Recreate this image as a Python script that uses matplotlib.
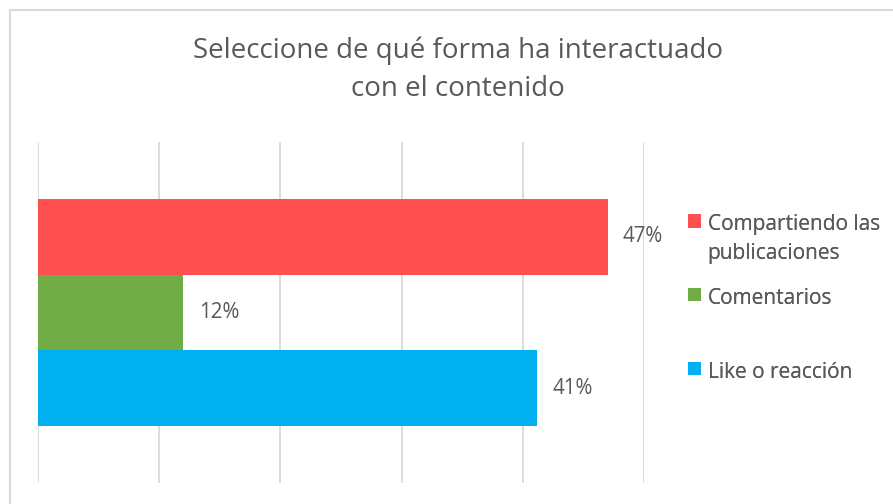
import matplotlib
matplotlib.use('Agg')
import matplotlib.pyplot as plt
from matplotlib.patches import Rectangle, Patch

# data
categories = ['Compartiendo las\npublicaciones', 'Comentarios', 'Like o reacción']
values = [0.47, 0.12, 0.412]
value_labels = ['47%', '12%', '41%']
colors = ['#FF5050', '#70AD47', '#00B0F0']
title = 'Seleccione de qué forma ha interactuado\ncon el contenido'

text_color = '#595959'
grid_color = '#D9D9D9'
plt.rcParams['font.family'] = ['Open Sans', 'DejaVu Sans']

W, H = 893, 504
fig = plt.figure(figsize=(W / 100, H / 100), dpi=100)
fig.patch.set_facecolor('white')

# outer chart border (right/bottom edges fall outside the image)
fig.add_artist(Rectangle((9.5 / W, -0.1), 1.2, 1.1 - 10.5 / H, transform=fig.transFigure,
                         fill=False, edgecolor=grid_color, linewidth=1.5))

ax = fig.add_axes([38 / W, 1 - 483 / H, (644 - 38) / W, (483 - 142) / H])
y = list(range(len(values)))
ax.barh(y, values, height=1.0, color=colors, zorder=2)
ax.set_xlim(0, 0.5)
ax.set_ylim(2.5 + 0.745, -0.5 - 0.745)
ax.set_xticks([0, 0.1, 0.2, 0.3, 0.4, 0.5])
ax.set_yticks([])
ax.tick_params(axis='x', length=0, labelbottom=False)
ax.grid(axis='x', color=grid_color, linewidth=1.3, zorder=0)
for s in ax.spines.values():
    s.set_visible(False)

for yi, v, lab in zip(y, values, value_labels):
    ax.annotate(lab, (v, yi), xytext=(11, 0), textcoords='offset points',
                ha='left', va='center', fontsize=14.8, color=text_color)

fig.text(458 / W, 1 - 70 / H, title, ha='center', va='center', fontsize=20,
         color=text_color, linespacing=1.5)

# legend entries sit in unevenly spaced slots, one small legend per entry
legend_y = [239, 298, 372]
for c, name, ly in zip(colors, categories, legend_y):
    leg = fig.legend([Patch(facecolor=c, edgecolor='none')], [name], loc='center left',
                     bbox_to_anchor=(678 / W, 1 - ly / H), frameon=False, fontsize=15,
                     labelcolor=text_color, handlelength=0.62, handleheight=0.62,
                     handletextpad=0.3, borderpad=0)
    for t in leg.get_texts():
        t.set_linespacing(1.45)
    # keep the swatch next to the first line of a wrapped label
    for col in leg._legend_handle_box.get_children():
        for item in col.get_children():
            item.align = 'top'
    fig.add_artist(leg)

fig.savefig('out.png', dpi=100)
